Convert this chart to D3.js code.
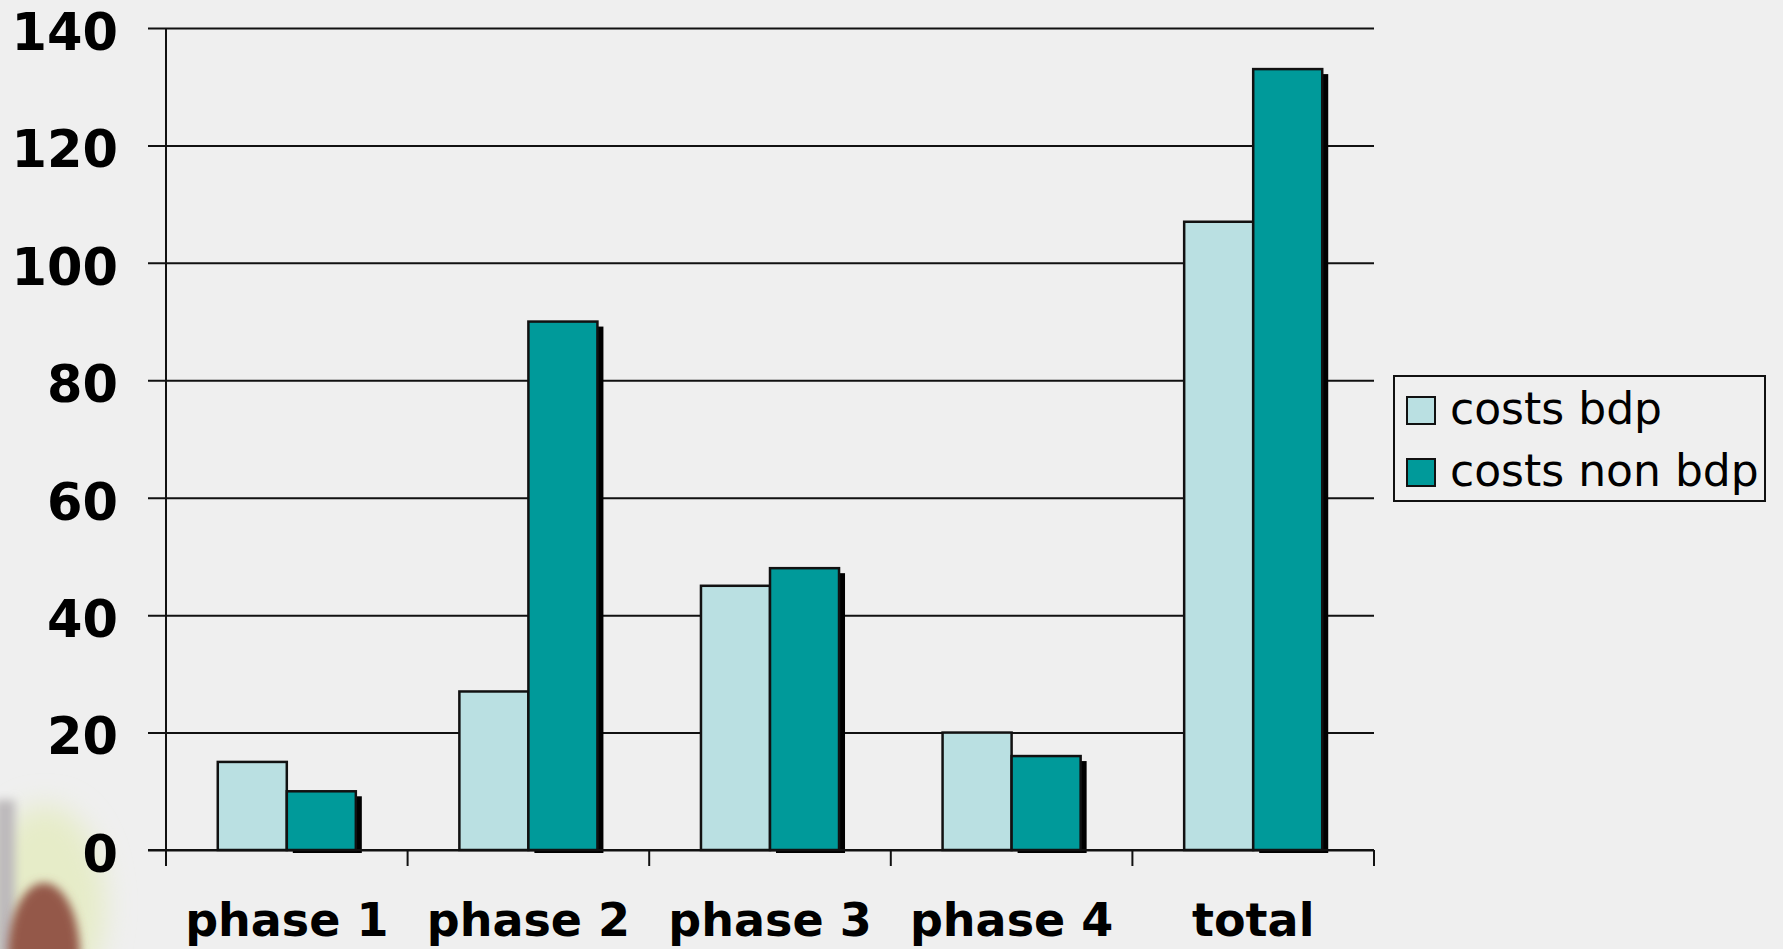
<!DOCTYPE html>
<html>
<head>
<meta charset="utf-8">
<script src="https://cdn.jsdelivr.net/npm/d3@7"></script>
<style>
  html, body { margin: 0; padding: 0; background: #efefef; }
  svg { display: block; }
</style>
</head>
<body>
<svg id="chart" width="1783" height="949"></svg>
<script>
const categories = ["phase 1", "phase 2", "phase 3", "phase 4", "total"];
const seriesNames = ["costs bdp", "costs non bdp"];
const costsBdp = [15, 27, 45, 20, 107];
const costsNonBdp = [10, 90, 48, 16, 133];
const yTicks = [0, 20, 40, 60, 80, 100, 120, 140];
const colors = ["#bae0e2", "#009a9a"];

const svg = d3.select("#chart");
const W = 1783, H = 949;
const plotLeft = 166, plotRight = 1374, plotTop = 28, plotBottom = 850;

svg.append("rect").attr("width", W).attr("height", H).attr("fill", "#efefef");

// soft blurred photo artefact in lower-left corner
const defs = svg.append("defs");
defs.append("filter").attr("id", "blur12").attr("x", "-50%").attr("y", "-50%").attr("width", "200%").attr("height", "200%")
  .append("feGaussianBlur").attr("stdDeviation", 14);
defs.append("filter").attr("id", "blur5").attr("x", "-50%").attr("y", "-50%").attr("width", "200%").attr("height", "200%")
  .append("feGaussianBlur").attr("stdDeviation", 5);
const deco = svg.append("g");
deco.append("ellipse").attr("cx", 45).attr("cy", 905).attr("rx", 60).attr("ry", 100)
  .attr("fill", "#e6ecc8").attr("filter", "url(#blur12)");
deco.append("rect").attr("x", -5).attr("y", 800).attr("width", 20).attr("height", 160)
  .attr("fill", "#bdbabc").attr("filter", "url(#blur5)");
deco.append("ellipse").attr("cx", 44).attr("cy", 955).attr("rx", 36).attr("ry", 72)
  .attr("fill", "#94584a").attr("filter", "url(#blur5)");

const x = d3.scaleBand().domain(categories).range([plotLeft, plotRight]).paddingInner(0).paddingOuter(0);
const xs = d3.scaleBand().domain(seriesNames).range([0, x.bandwidth()]).paddingInner(0).paddingOuter(0.75);
const y = d3.scaleLinear().domain([0, 140]).range([plotBottom, plotTop]);

// gridlines + y labels via axis
const yAxis = d3.axisLeft(y).tickValues(yTicks).tickSizeInner(-(plotRight - 148)).tickSizeOuter(0).tickPadding(30);
const gy = svg.append("g").attr("transform", `translate(148,0)`).call(yAxis);
gy.select(".domain").remove();
gy.selectAll(".tick line").attr("stroke", "#111").attr("stroke-width", 2);
gy.selectAll(".tick text")
  .attr("font-family", "'DejaVu Sans', Verdana, sans-serif")
  .attr("font-weight", "bold").attr("font-size", 51).attr("fill", "#000")
  .attr("dy", "0.42em");

// y axis line
svg.append("line").attr("x1", plotLeft).attr("x2", plotLeft).attr("y1", plotTop).attr("y2", plotBottom)
  .attr("stroke", "#111").attr("stroke-width", 2);

const data = categories.map((c, i) => ({ cat: c, vals: [costsBdp[i], costsNonBdp[i]] }));

const groups = svg.append("g").selectAll("g").data(data).join("g")
  .attr("transform", d => `translate(${x(d.cat)},0)`);

// shadows (only for dark series)
groups.append("rect")
  .attr("x", xs(seriesNames[1]) + 6)
  .attr("y", d => y(d.vals[1]) + 5)
  .attr("width", xs.bandwidth())
  .attr("height", d => plotBottom + 3 - (y(d.vals[1]) + 5))
  .attr("fill", "#000");

groups.selectAll("rect.bar").data(d => d.vals.map((v, j) => ({ v, s: seriesNames[j], j })))
  .join("rect").attr("class", "bar")
  .attr("x", d => xs(d.s))
  .attr("y", d => y(d.v))
  .attr("width", xs.bandwidth())
  .attr("height", d => plotBottom - y(d.v))
  .attr("fill", d => colors[d.j])
  .attr("stroke", "#111").attr("stroke-width", 2.5);

// x axis
const xAxis = d3.axisBottom(x).tickSize(0).tickPadding(86);
const gx = svg.append("g").attr("transform", `translate(0,${plotBottom})`).call(xAxis);
gx.select(".domain").remove();
gx.selectAll(".tick text")
  .attr("font-family", "'DejaVu Sans', Verdana, sans-serif")
  .attr("font-weight", "bold").attr("font-size", 46).attr("fill", "#000")
  .attr("dy", "0");
svg.append("line").attr("x1", 148).attr("x2", plotRight).attr("y1", plotBottom).attr("y2", plotBottom)
  .attr("stroke", "#111").attr("stroke-width", 2);
const boundaries = categories.map(c => x(c)).concat([plotRight]);
svg.append("g").selectAll("line").data(boundaries).join("line")
  .attr("x1", d => d).attr("x2", d => d).attr("y1", plotBottom).attr("y2", plotBottom + 16)
  .attr("stroke", "#111").attr("stroke-width", 2);

// legend
const lg = svg.append("g");
lg.append("rect").attr("x", 1394).attr("y", 376).attr("width", 371).attr("height", 125)
  .attr("fill", "none").attr("stroke", "#111").attr("stroke-width", 2);
const items = lg.selectAll("g").data(seriesNames).join("g")
  .attr("transform", (d, i) => `translate(0,${i * 62})`);
items.append("rect").attr("x", 1407).attr("y", 397).attr("width", 28).attr("height", 27)
  .attr("fill", (d, i) => colors[i]).attr("stroke", "#111").attr("stroke-width", 2);
items.append("text").attr("x", 1450).attr("y", 424).text(d => d)
  .attr("font-family", "'DejaVu Sans', Verdana, sans-serif")
  .attr("font-size", 44).attr("fill", "#000");
</script>
</body>
</html>
